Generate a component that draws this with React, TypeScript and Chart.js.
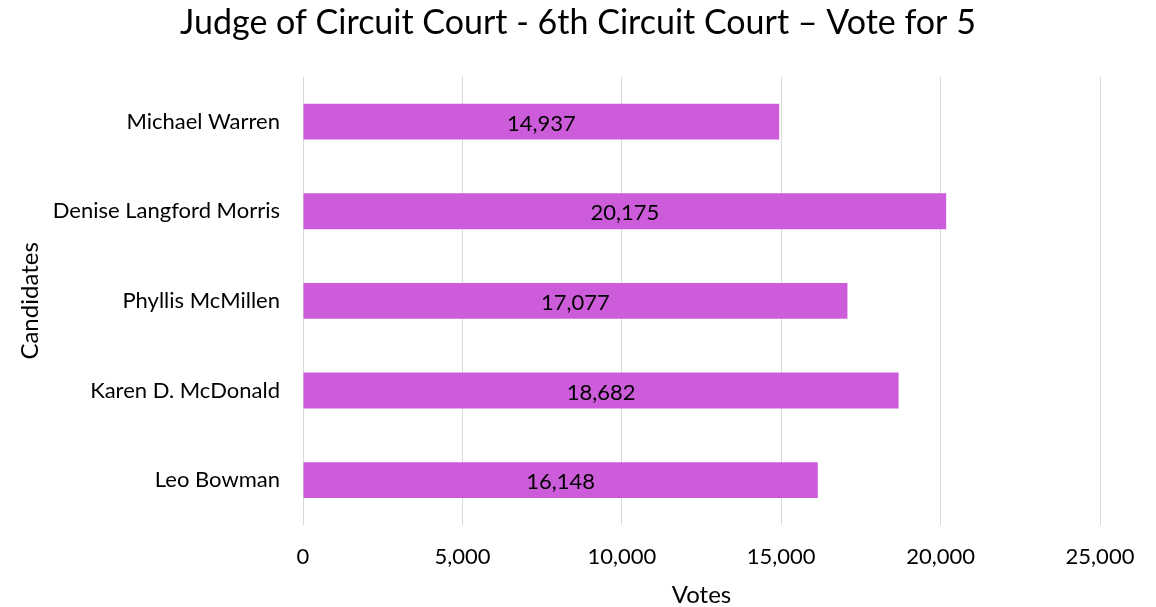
import React, { useEffect, useRef } from "react";
import { Chart, registerables } from "chart.js";

Chart.register(...registerables);

const candidates = [
  "Michael Warren",
  "Denise Langford Morris",
  "Phyllis McMillen",
  "Karen D. McDonald",
  "Leo Bowman",
];
const votes = [14937, 20175, 17077, 18682, 16148];
const xTicks = [0, 5000, 10000, 15000, 20000, 25000];

const FONT = "Lato, 'Open Sans', sans-serif";

const dataLabelPlugin = {
  id: "dataLabels",
  afterDatasetsDraw(chart: any) {
    const ctx = chart.ctx;
    const meta = chart.getDatasetMeta(0);
    ctx.save();
    ctx.font = `22px ${FONT}`;
    ctx.fillStyle = "#000000";
    ctx.textAlign = "center";
    ctx.textBaseline = "middle";
    meta.data.forEach((bar: any, i: number) => {
      const x = (bar.x + bar.base) / 2;
      ctx.fillText(votes[i].toLocaleString("en-US"), x, bar.y + 2);
    });
    ctx.restore();
  },
};

export default function App() {
  const ref = useRef<HTMLCanvasElement>(null);
  useEffect(() => {
    document.body.style.margin = "0";
    const chart = new Chart(ref.current!, {
      type: "bar",
      data: {
        labels: candidates,
        datasets: [
          {
            data: votes,
            backgroundColor: "#CD5CDB",
            categoryPercentage: 1,
            barPercentage: 0.4,
          },
        ],
      },
      options: {
        indexAxis: "y",
        responsive: false,
        animation: false,
        layout: { padding: 0 },
        plugins: {
          legend: { display: false },
          tooltip: { enabled: false },
          title: {
            display: true,
            text: "Judge of Circuit Court - 6th Circuit Court \u2013 Vote for 5",
            color: "#000000",
            font: { family: FONT, size: 34, weight: "normal", lineHeight: 1.2 },
            padding: { top: 3, bottom: 33 },
          },
        },
        scales: {
          x: {
            min: 0,
            max: 25000,
            afterBuildTicks(scale: any) {
              scale.ticks = xTicks.map((v) => ({ value: v }));
            },
            afterFit(scale: any) {
              scale.height = 82;
              scale.paddingRight = 56;
            },
            ticks: {
              color: "#000000",
              font: { family: FONT, size: 22 },
              padding: 19,
              maxRotation: 0,
              callback: (v: any) => Number(v).toLocaleString("en-US"),
            },
            grid: { color: "#d9d9d9", lineWidth: 1, drawTicks: false },
            border: { display: false },
            title: {
              display: true,
              text: "Votes",
              color: "#000000",
              font: { family: FONT, size: 24, lineHeight: 1 },
              padding: { top: 0, bottom: 0 },
            },
          },
          y: {
            afterFit(scale: any) {
              scale.width = 303;
            },
            ticks: {
              color: "#000000",
              font: { family: FONT, size: 22 },
              padding: 23,
            },
            grid: { display: false, drawTicks: false },
            border: { display: false },
            title: {
              display: true,
              text: "Candidates",
              color: "#000000",
              font: { family: FONT, size: 24, lineHeight: 1.2 },
              padding: { top: 16, bottom: 0 },
            },
          },
        },
      },
      plugins: [dataLabelPlugin],
    });
    return () => chart.destroy();
  }, []);
  return (
    <div style={{ width: 1156, height: 607, background: "#ffffff" }}>
      <canvas ref={ref} width={1156} height={607} />
    </div>
  );
}
